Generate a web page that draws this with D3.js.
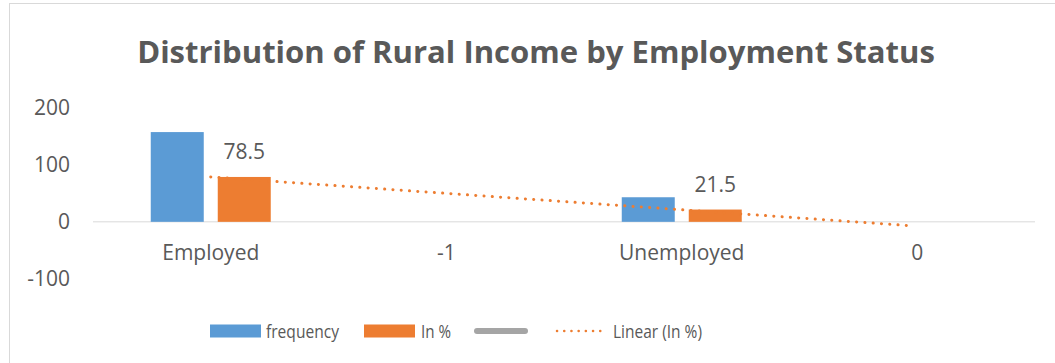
<!DOCTYPE html>
<html lang="en">
<head>
    <meta charset="UTF-8">
    <title>Rural Income</title>
    <script src="https://cdnjs.cloudflare.com/ajax/libs/d3/7.8.5/d3.min.js"></script>
    <style>
        body { margin: 0; background: #fff; }
        text { font-family: "Open Sans", sans-serif; fill: #595959; }
    </style>
</head>
<body>
    <svg width="1055" height="363"></svg>

    <script>
    // data
    var categories = ["Employed", "-1", "Unemployed", "0"]
    var frequency = [157, null, 43, null]
    var percent = [78.5, null, 21.5, null]
    var yTicks = [-100, 0, 100, 200]
    var legendLabels = ["frequency", "In %", "", "Linear (In %)"]

    var svg = d3.select("svg")
    var blue = "#5b9bd5", orange = "#ed7d31", grey = "#a5a5a5"

    // outer border
    svg.append("rect").attr("x", 9.5).attr("y", 3.5).attr("width", 1060).attr("height", 380)
        .style("fill", "none").style("stroke", "#d9d9d9")

    var title = svg.append("text").attr("x", 536).attr("y", 63).attr("text-anchor", "middle")
        .style("font-weight", "bold").style("font-size", "30px")
        .text("Distribution of Rural Income by Employment Status")
    // squeeze to the width seen in the picture
    var tw = title.node().getComputedTextLength()
    title.style("font-size", (30 * 798 / tw) + "px")

    var x = d3.scaleBand().domain(categories).range([93, 1035])
    var y = d3.scaleLinear().domain([-100, 200]).range([279, 107.5])

    // y labels, no axis line
    svg.selectAll(".ylab").data(yTicks).enter().append("text")
        .attr("class", "ylab")
        .attr("x", 70).attr("y", d => y(d)).attr("dy", "0.35em")
        .attr("text-anchor", "end").style("font-size", "21px")
        .text(d => d)

    // zero line
    svg.append("line").attr("x1", 93).attr("x2", 1035).attr("y1", y(0)).attr("y2", y(0))
        .style("stroke", "#d9d9d9").style("stroke-width", 1)

    var axis = d3.axisBottom(x).tickSize(0).tickPadding(0)
    var ag = svg.append("g").attr("transform", "translate(0," + 253 + ")").call(axis)
    ag.select(".domain").remove()
    ag.selectAll("text").attr("dy", "0.35em").style("font-size", "21px")
        .style("font-family", "'Open Sans', sans-serif").style("fill", "#595959")

    var bw = 53, gap = 14
    var rows = categories.map((c, i) => ({ c: c, f: frequency[i], p: percent[i] }))

    svg.selectAll(".fbar").data(rows.filter(d => d.f != null)).enter().append("rect")
        .attr("class", "fbar")
        .attr("x", d => x(d.c) + x.bandwidth() / 2 - gap / 2 - bw)
        .attr("y", d => y(d.f)).attr("width", bw).attr("height", d => y(0) - y(d.f))
        .style("fill", blue)

    svg.selectAll(".pbar").data(rows.filter(d => d.p != null)).enter().append("rect")
        .attr("class", "pbar")
        .attr("x", d => x(d.c) + x.bandwidth() / 2 + gap / 2)
        .attr("y", d => y(d.p)).attr("width", bw).attr("height", d => y(0) - y(d.p))
        .style("fill", orange)

    svg.selectAll(".plab").data(rows.filter(d => d.p != null)).enter().append("text")
        .attr("class", "plab")
        .attr("x", d => x(d.c) + x.bandwidth() / 2 + gap / 2 + bw / 2)
        .attr("y", d => y(d.p) - 18)
        .attr("text-anchor", "middle").style("font-size", "21px")
        .text(d => d.p)

    // linear trendline of In % over category index 1..4
    var pts = percent.map((v, i) => [i + 1, v]).filter(d => d[1] != null)
    var mx = d3.mean(pts, d => d[0]), my = d3.mean(pts, d => d[1])
    var slope = d3.sum(pts, d => (d[0] - mx) * (d[1] - my)) / d3.sum(pts, d => (d[0] - mx) * (d[0] - mx))
    var icpt = my - slope * mx
    var tx = i => x(categories[i]) + x.bandwidth() / 2
    svg.append("line")
        .attr("x1", tx(0)).attr("y1", y(icpt + slope * 1))
        .attr("x2", tx(3) - 5).attr("y2", y(icpt + slope * 4))
        .style("stroke", orange).style("stroke-width", 3)
        .style("stroke-dasharray", "0.1 8.2").style("stroke-linecap", "round")

    // legend (text squeezed to the narrower widths of the original)
    var lg = svg.append("g").attr("transform", "translate(0,331)")
    lg.append("rect").attr("x", 210).attr("y", -6.5).attr("width", 51).attr("height", 13).style("fill", blue)
    lg.append("text").attr("x", 266).attr("dy", "0.35em").style("font-size", "19px")
        .attr("textLength", 73).attr("lengthAdjust", "spacingAndGlyphs").text(legendLabels[0])
    lg.append("rect").attr("x", 364).attr("y", -6.5).attr("width", 51).attr("height", 13).style("fill", orange)
    lg.append("text").attr("x", 421).attr("dy", "0.35em").style("font-size", "19px")
        .attr("textLength", 30).attr("lengthAdjust", "spacingAndGlyphs").text(legendLabels[1])
    lg.append("line").attr("x1", 477).attr("x2", 525).attr("y1", 0).attr("y2", 0)
        .style("stroke", grey).style("stroke-width", 6).style("stroke-linecap", "round")
    lg.append("line").attr("x1", 557).attr("x2", 607).attr("y1", 0).attr("y2", 0)
        .style("stroke", orange).style("stroke-width", 2.5)
        .style("stroke-dasharray", "0.1 7.1").style("stroke-linecap", "round")
    lg.append("text").attr("x", 613).attr("dy", "0.35em").style("font-size", "19px")
        .attr("textLength", 89).attr("lengthAdjust", "spacingAndGlyphs").text(legendLabels[3])
    </script>
</body>
</html>
